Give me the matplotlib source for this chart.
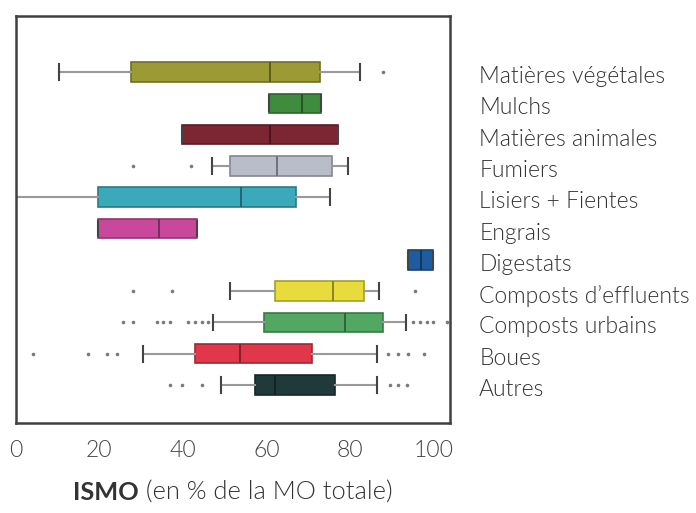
import matplotlib
matplotlib.use("Agg")
import matplotlib.pyplot as plt
import matplotlib.colors as mcolors
import matplotlib.transforms as mtransforms

# ---------------- data ----------------
categories = ["Matières végétales", "Mulchs", "Matières animales", "Fumiers",
              "Lisiers + Fientes", "Engrais", "Digestats", "Composts d\u2019effluents",
              "Composts urbains", "Boues", "Autres"]
whislo = [10.3, 60.7, 39.7, 46.9, 0.0, 19.7, 94.0, 51.3, 47.3, 30.5, 49.1]
q1     = [27.6, 60.7, 39.7, 51.3, 19.7, 19.7, 94.0, 62.1, 59.4, 42.9, 57.3]
med    = [60.9, 68.5, 60.9, 62.5, 53.9, 34.3, 97.0, 76.0, 78.8, 53.7, 62.0]
q3     = [72.8, 73.0, 77.1, 75.8, 67.1, 43.3, 100.0, 83.4, 87.9, 71.0, 76.4]
whishi = [82.4, 73.0, 77.1, 79.6, 75.2, 43.3, 100.0, 87.0, 93.5, 86.5, 86.5]
fliers = [
    [88.0],
    [],
    [],
    [28.0, 42.0],
    [],
    [],
    [],
    [28.0, 37.4, 95.6],
    [25.7, 28.0, 33.8, 35.2, 36.9, 41.2, 42.9, 44.6, 46.0,
     95.2, 96.8, 98.5, 100.0, 103.3],
    [4.1, 17.3, 21.8, 24.2, 89.2, 91.6, 94.0, 97.8],
    [36.9, 39.7, 44.6, 89.6, 91.6, 93.7],
]
colors = ["#9c9a34", "#3f8c3f", "#7c2634", "#b9bdc9", "#3aa9ba", "#c8489c",
          "#1f5c9e", "#e8dc3c", "#52a862", "#e0374a", "#20393a"]
xticks = [0, 20, 40, 60, 80, 100]
xlabel_bold = "ISMO"
xlabel_rest = " (en % de la MO totale)"

# ---------------- fonts ----------------
plt.rcParams["font.family"] = ["Lato", "DejaVu Sans"]
TEXT = "#333333"
LW = 300

fig = plt.figure(figsize=(6.96, 5.13), dpi=100)
W, H = 696, 513
L, R, T, B = 16, 450, 16, 423
ax = fig.add_axes([L / W, (H - B) / H, (R - L) / W, (B - T) / H])

n = len(categories)
stats = []
for i in range(n):
    stats.append(dict(label=categories[i], whislo=whislo[i], q1=q1[i], med=med[i],
                      q3=q3[i], whishi=whishi[i], fliers=fliers[i]))

positions = list(range(n))
res = ax.bxp(stats, positions=positions, vert=False, widths=0.62,
             patch_artist=True, manage_ticks=False,
             capwidths=0.5,
             flierprops=dict(marker="o", markersize=2.6, markerfacecolor="#7a7a7a",
                             markeredgecolor="none"),
             whiskerprops=dict(color="#9a9a9a", linewidth=1.5),
             capprops=dict(color="#444444", linewidth=1.5))

for i, patch in enumerate(res["boxes"]):
    c = mcolors.to_rgb(colors[i])
    dark = tuple(v * 0.72 for v in c)
    patch.set_facecolor(c)
    patch.set_edgecolor(dark)
    patch.set_linewidth(1.2)
    res["medians"][i].set_color(tuple(v * 0.6 for v in c))
    res["medians"][i].set_linewidth(1.4)

ax.set_xlim(0, 104)
ax.set_ylim(10 + 38 / 31.3, -56 / 31.3)

ax.set_xticks(xticks)
ax.set_xticklabels([str(t) for t in xticks], fontsize=16.5, color="#444444",
                   fontweight=LW)
ax.tick_params(axis="x", length=0, pad=12)

ax.yaxis.tick_right()
ax.set_yticks(positions)
ax.set_yticklabels(categories, fontsize=16.5, color=TEXT, fontweight=LW)
ax.tick_params(axis="y", length=0, pad=21)
shift = mtransforms.ScaledTranslation(0, -2.5 / 100, fig.dpi_scale_trans)
for lab in ax.get_yticklabels():
    lab.set_transform(lab.get_transform() + shift)

for s in ax.spines.values():
    s.set_color("#404040")
    s.set_linewidth(1.8)

# x label with bold part
fig.canvas.draw()
rend = fig.canvas.get_renderer()
t1 = fig.text(0, 0, xlabel_bold, fontsize=18.3, fontweight="bold", color=TEXT)
t2 = fig.text(0, 0, xlabel_rest, fontsize=18.3, fontweight=LW, color=TEXT)
w1 = t1.get_window_extent(rend).width
w2 = t2.get_window_extent(rend).width
cx = (L + R) / 2
x0 = cx - (w1 + w2) / 2
ybase = 1 - 493 / H
t1.set_position((x0 / W, ybase))
t1.set_va("center")
t2.set_position(((x0 + w1) / W, ybase))
t2.set_va("center")

fig.savefig("out.png", dpi=100)
